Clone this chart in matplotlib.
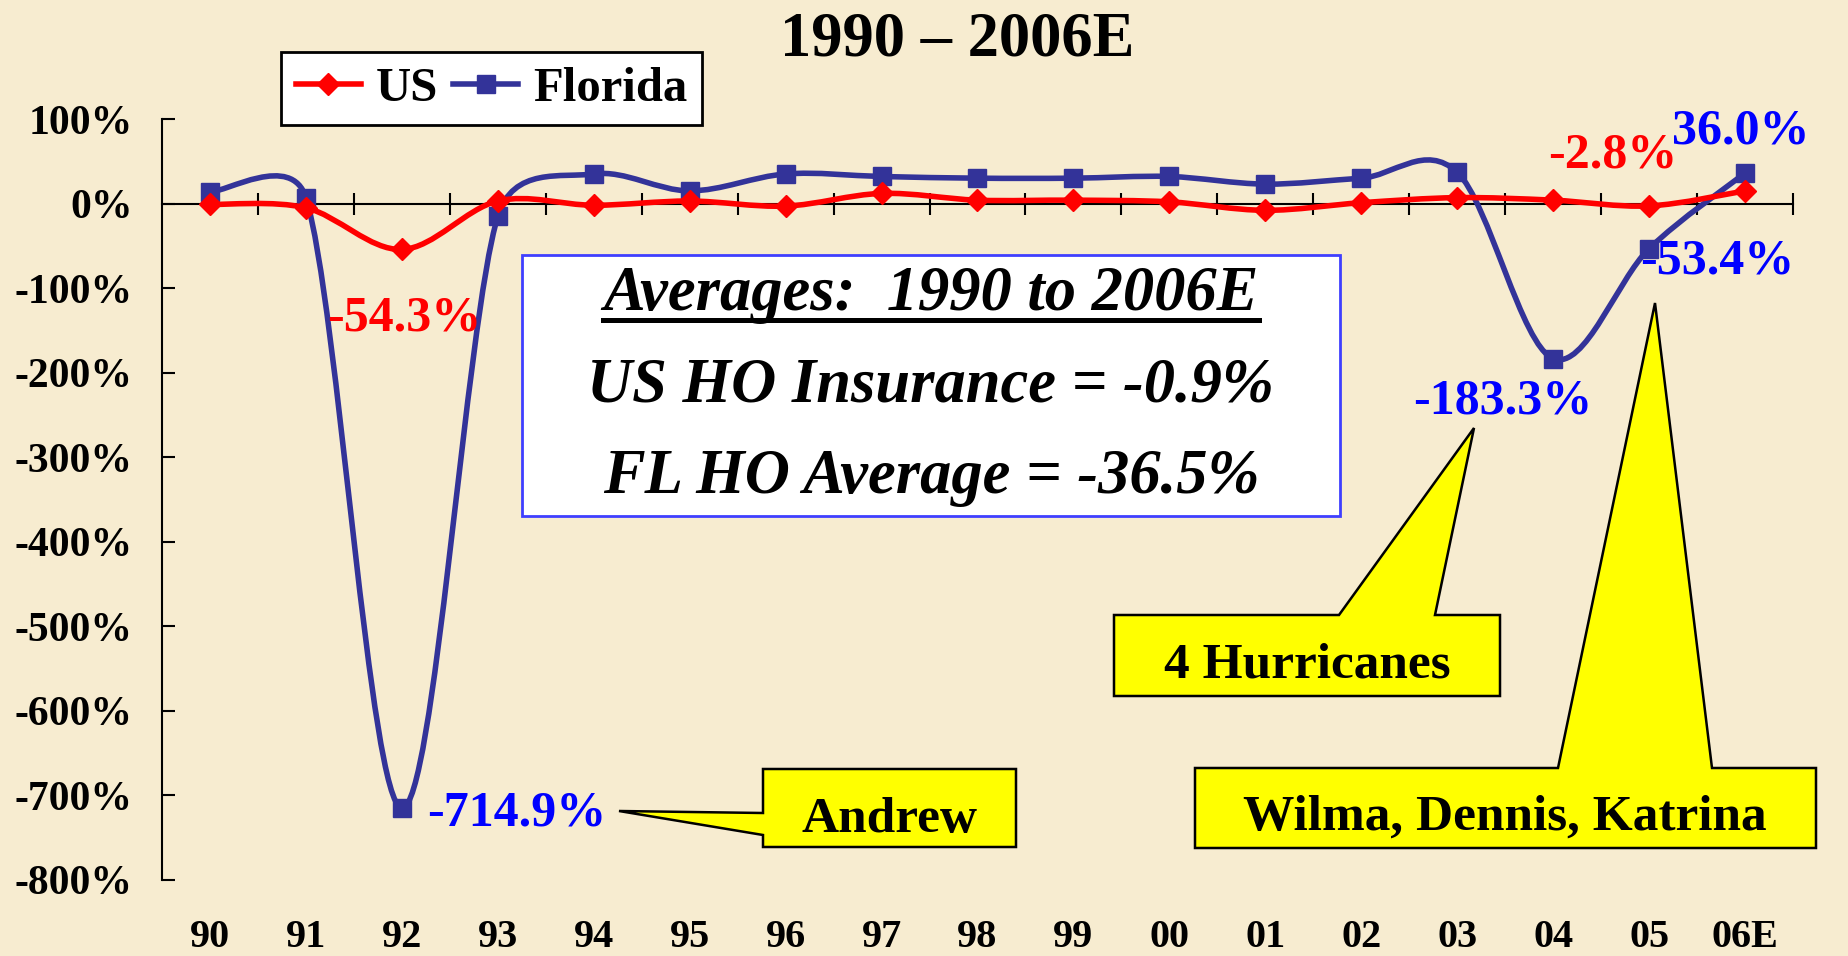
import matplotlib
matplotlib.use("Agg")
import matplotlib.pyplot as plt
from matplotlib.path import Path
from matplotlib.patches import PathPatch, Polygon, Rectangle
from matplotlib.lines import Line2D
from matplotlib.ticker import FuncFormatter
import numpy as np

anos = ["90", "91", "92", "93", "94", "95", "96", "97", "98", "99",
        "00", "01", "02", "03", "04", "05", "06E"]
us = [-1, -5, -54.3, 3, -2, 3, -3, 12, 4, 4, 2, -8, 1, 7, 4, -2.8, 15]
florida = [14, 7, -714.9, -15, 35, 15, 35, 32, 30, 30, 32, 23, 30, 37, -183.3, -53.4, 36.0]

# rótulos de dados: (série, índice, deslocamento em pixels)
rotulos = [
    ("us", 2, (2, -81)),
    ("florida", 2, (115, -17)),
    ("florida", 14, (-50, -55)),
    ("florida", 15, (68, -25)),
    ("florida", 16, (-4, 30)),
    ("us", 15, (-36, 38)),
]

W, H = 1849, 956
VERMELHO = "#FF0000"
AZUL = "#333399"
FUNDO = "#F7ECD0"

plt.rcParams["font.family"] = "Liberation Serif"
plt.rcParams["font.weight"] = "bold"
plt.rcParams["axes.unicode_minus"] = False


def fx(x):
    return x / W


def fy(y):
    return 1 - y / H


def curva_suave(ax, xs, ys, **kw):
    # linha suavizada estilo Excel (bezier com braços limitados)
    pts = ax.transData.transform(np.column_stack([xs, ys]))
    n = len(pts)
    verts = [pts[0]]
    codes = [Path.MOVETO]
    for i in range(n - 1):
        p0 = pts[max(i - 1, 0)]
        p1 = pts[i]
        p2 = pts[i + 1]
        p3 = pts[min(i + 2, n - 1)]
        seg = np.hypot(*(p2 - p1))
        t1 = (p2 - p0) / 6
        t2 = (p3 - p1) / 6
        for t in (t1, t2):
            L = np.hypot(*t)
            if L > seg / 2:
                t *= seg / 2 / L
        verts += [p1 + t1, p2 - t2, p2]
        codes += [Path.CURVE4] * 3
    verts = ax.transData.inverted().transform(np.array(verts))
    ax.add_patch(PathPatch(Path(verts, codes), fill=False, **kw))


fig = plt.figure(figsize=(W / 100, H / 100), dpi=100)
fig.patch.set_facecolor(FUNDO)
ax = fig.add_axes([fx(162), fy(880), (1793 - 162) / W, (880 - 119) / H])
ax.set_facecolor("none")

x = np.arange(len(anos))
ax.set_xlim(-0.5, len(anos) - 0.5)
ax.set_ylim(-800, 100)

curva_suave(ax, x, florida, edgecolor=AZUL, lw=4, zorder=3, capstyle="round", joinstyle="round")
ax.plot(x, florida, ls="none", marker="s", ms=13.5, color=AZUL, zorder=4)
curva_suave(ax, x, us, edgecolor=VERMELHO, lw=4, zorder=5, capstyle="round", joinstyle="round")
ax.plot(x, us, ls="none", marker="D", ms=11, color=VERMELHO, zorder=6)

# eixos
for lado in ["top", "right"]:
    ax.spines[lado].set_visible(False)
ax.spines["left"].set_linewidth(1.5)
ax.spines["bottom"].set_position(("data", 0))
ax.spines["bottom"].set_linewidth(1.5)

ax.set_yticks(np.arange(-800, 101, 100))
ax.yaxis.set_major_formatter(FuncFormatter(lambda v, p: f"{v:.0f}%"))
ax.tick_params(axis="y", direction="in", length=9, width=1.5, pad=21, labelsize=30)

ax.set_xticks(np.arange(0.5, len(anos), 1))
ax.tick_params(axis="x", direction="inout", length=16, width=1.5, labelbottom=False)

sec = ax.secondary_xaxis("bottom")
sec.set_xticks(x, anos)
sec.tick_params(length=0, pad=28, labelsize=29)
sec.spines["bottom"].set_visible(False)

# rótulos de dados
series = {"us": (us, "#FF0000"), "florida": (florida, "#0000FF")}
for nome, i, (dx, dy) in rotulos:
    vals, cor = series[nome]
    ax.annotate(f"{vals[i]:.1f}%", xy=(i, vals[i]), xytext=(dx, dy),
                textcoords="offset pixels", ha="center", va="baseline",
                color=cor, fontsize=36, zorder=7)

# legenda
handles = [
    Line2D([], [], color=VERMELHO, lw=4, marker="D", ms=11),
    Line2D([], [], color=AZUL, lw=4, marker="s", ms=13.5),
]
leg = fig.legend(handles, ["US", "Florida"], loc="upper left",
                 bbox_to_anchor=(fx(281), fy(52)), bbox_transform=fig.transFigure,
                 ncol=2, numpoints=1, handlelength=1.35, handletextpad=0.3,
                 columnspacing=0.3, borderpad=0.3, borderaxespad=0,
                 fancybox=False, framealpha=1, edgecolor="black",
                 prop={"family": "Liberation Serif", "weight": "bold", "size": 35})
leg.get_frame().set_linewidth(2)

# título
fig.text(fx(957), fy(55), "1990 – 2006E", ha="center", va="baseline", fontsize=45)

# caixa de médias
fig.add_artist(Rectangle((fx(522), fy(516)), (1340 - 522) / W, (516 - 255) / H,
                         transform=fig.transFigure, facecolor="white",
                         edgecolor="#3F3FFF", lw=2))
linhas = ["Averages:  1990 to 2006E", "US HO Insurance = -0.9%", "FL HO Average = -36.5%"]
bases = [310, 402, 493]
textos = []
for txt, b in zip(linhas, bases):
    textos.append(fig.text(fx(931), fy(b), txt, ha="center", va="baseline",
                           fontsize=45, style="italic", zorder=3))

fig.canvas.draw()
bb = textos[0].get_window_extent()
fig.add_artist(Line2D([bb.x0 / W, bb.x1 / W], [fy(320), fy(320)],
                      transform=fig.transFigure, color="black", lw=3.6, zorder=3))

# balões
baloes = [
    ("Andrew", 890, 832,
     [(763, 769), (1016, 769), (1016, 847), (763, 847), (763, 835), (619, 811), (763, 813)]),
    ("4 Hurricanes", 1307, 678,
     [(1114, 615), (1339, 615), (1474, 428), (1435, 615), (1500, 615), (1500, 696), (1114, 696)]),
    ("Wilma, Dennis, Katrina", 1505, 830,
     [(1195, 768), (1558, 768), (1655, 303), (1712, 768), (1816, 768), (1816, 848), (1195, 848)]),
]
for txt, tx, ty, poly in baloes:
    fig.add_artist(Polygon([(fx(a), fy(b)) for a, b in poly], closed=True,
                           transform=fig.transFigure, facecolor="#FFFF00",
                           edgecolor="black", lw=1.8, joinstyle="miter"))
    fig.text(fx(tx), fy(ty), txt, ha="center", va="baseline", fontsize=37, zorder=3)

fig.savefig("out.png", dpi=100, facecolor=FUNDO)
